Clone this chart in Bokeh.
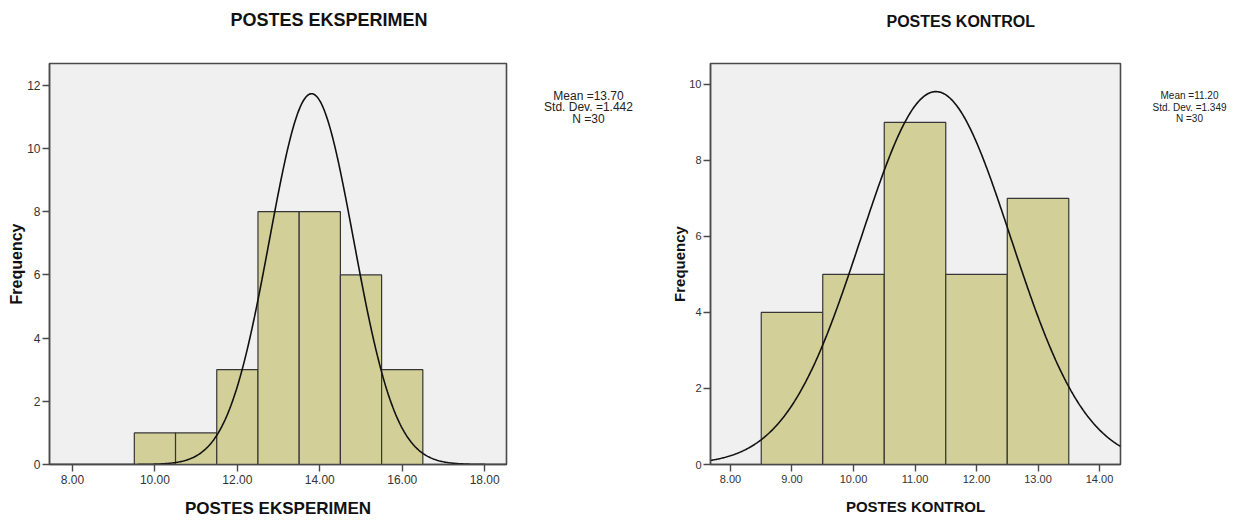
import numpy as np
from bokeh.plotting import figure
from bokeh.models import Range1d, FixedTicker, PrintfTickFormatter, Title
from bokeh.core.properties import value
from bokeh.layouts import row
from bokeh.embed import file_html
from bokeh.resources import INLINE

# ---------------- data ----------------
eks_bin_centers = [10, 11, 12, 13, 14, 15, 16]
eks_counts = [1, 1, 3, 8, 8, 6, 3]
eks_x_ticks = [8, 10, 12, 14, 16, 18]
eks_y_ticks = [0, 2, 4, 6, 8, 10, 12]
eks_stats = ["Mean =13.70", "Std. Dev. =1.442", "N =30"]
eks_curve_mean = 13.80   # centre of the drawn normal curve
eks_curve_sd = 1.02      # spread of the drawn normal curve
eks_n = 30

kon_bin_centers = [9, 10, 11, 12, 13]
kon_counts = [4, 5, 9, 5, 7]
kon_x_ticks = [8, 9, 10, 11, 12, 13, 14]
kon_y_ticks = [0, 2, 4, 6, 8, 10]
kon_stats = ["Mean =11.20", "Std. Dev. =1.349", "N =30"]
kon_curve_mean = 11.34
kon_curve_sd = 1.22
kon_n = 30

BIN_WIDTH = 1.0

FONT = "Liberation Sans"
BAR_FILL = "#D3CF98"
BG = "#F0F0F0"
DARK = "#363636"

FTOP = 63
FH = 401
BBOTTOM = 53


def make_hist(title, xlab, centers, counts, xr, yr, xticks, yticks,
              cmean, csd, n, fwidth, bleft, title_offset, title_fs,
              tick_fs, xlab_fs, ylab_fs, ylab_standoff):
    p = figure(frame_width=fwidth, frame_height=FH,
               min_border_left=bleft, min_border_right=2,
               min_border_top=FTOP, min_border_bottom=BBOTTOM,
               x_range=Range1d(*xr), y_range=Range1d(*yr),
               output_backend="svg", toolbar_location=None,
               background_fill_color=BG, border_fill_color="white")
    # spacer keeps the title well above the frame
    p.add_layout(Title(text=" ", text_font_size="15px", text_font=FONT), "above")
    p.add_layout(Title(text=title, align="left", offset=title_offset,
                       text_font=FONT, text_font_style="bold",
                       text_font_size=f"{title_fs}px", text_color="#111111"),
                 "above")

    p.outline_line_color = "#4a4a4a"
    p.outline_line_width = 1.6
    p.xgrid.visible = False
    p.ygrid.visible = False

    p.vbar(x=centers, top=counts, width=BIN_WIDTH, bottom=0,
           fill_color=BAR_FILL, line_color=DARK, line_width=1.2)

    xs = np.linspace(xr[0], xr[1], 500)
    ys = n * BIN_WIDTH / (csd * np.sqrt(2 * np.pi)) * np.exp(-0.5 * ((xs - cmean) / csd) ** 2)
    p.line(xs, ys, line_color="#111111", line_width=1.6)

    for ax in (p.xaxis[0], p.yaxis[0]):
        ax.axis_line_color = "#4a4a4a"
        ax.axis_line_width = 1.4
        ax.major_tick_line_color = "#4a4a4a"
        ax.major_tick_line_width = 1.4
        ax.major_tick_in = 0
        ax.major_tick_out = 7
        ax.minor_tick_line_color = None
        ax.major_label_text_font = FONT
        ax.major_label_text_font_size = f"{tick_fs}px"
        ax.major_label_text_color = "#333333"
        ax.axis_label_text_font = FONT
        ax.axis_label_text_font_style = "bold"
        ax.axis_label_text_color = "#111111"

    p.xaxis.ticker = FixedTicker(ticks=xticks)
    p.xaxis.formatter = PrintfTickFormatter(format="%.2f")
    p.xaxis.major_label_standoff = 3
    p.xaxis.axis_label = xlab
    p.xaxis.axis_label_text_font_size = f"{xlab_fs}px"
    p.xaxis.axis_label_standoff = 12

    p.yaxis.ticker = FixedTicker(ticks=yticks)
    p.yaxis.major_label_standoff = 2
    p.yaxis.axis_label = "Frequency"
    p.yaxis.axis_label_text_font_size = f"{ylab_fs}px"
    p.yaxis.axis_label_standoff = ylab_standoff
    return p


def make_stats(lines, width, cx, top_y, fs, step):
    # y measured in pixels downward from the frame top
    s = figure(frame_width=width, frame_height=FH,
               min_border_left=0, min_border_right=0,
               min_border_top=FTOP, min_border_bottom=BBOTTOM,
               x_range=Range1d(0, width), y_range=Range1d(FH, 0),
               x_axis_location=None, y_axis_location=None,
               output_backend="svg", toolbar_location=None,
               background_fill_color="white", border_fill_color="white")
    s.outline_line_color = None
    s.xgrid.visible = False
    s.ygrid.visible = False
    ys = [top_y - FTOP + i * step for i in range(len(lines))]
    s.text(x=[cx] * len(lines), y=ys, text=lines,
           text_font=value(FONT), text_font_size=f"{fs}px",
           text_color="#222222", text_align="center", text_baseline="middle")
    return s


p1 = make_hist("POSTES EKSPERIMEN", "POSTES EKSPERIMEN",
               eks_bin_centers, eks_counts,
               (7.442, 18.53), (0, 12.69), eks_x_ticks, eks_y_ticks,
               eks_curve_mean, eks_curve_sd, eks_n,
               fwidth=457, bleft=49, title_offset=181, title_fs=18,
               tick_fs=12, xlab_fs=17, ylab_fs=16, ylab_standoff=-1)
s1 = make_stats(eks_stats, 130, 80, 95, 12, 11.5)

p2 = make_hist("POSTES KONTROL", "POSTES KONTROL",
               kon_bin_centers, kon_counts,
               (7.675, 14.341), (0, 10.55), kon_x_ticks, kon_y_ticks,
               kon_curve_mean, kon_curve_sd, kon_n,
               fwidth=410, bleft=72, title_offset=176, title_fs=16,
               tick_fs=11, xlab_fs=15, ylab_fs=15, ylab_standoff=-2)
s2 = make_stats(kon_stats, 106, 67, 95, 10, 11.5)

layout = row(p1, s1, p2, s2)
open("out.html", "w").write(file_html(layout, INLINE))
